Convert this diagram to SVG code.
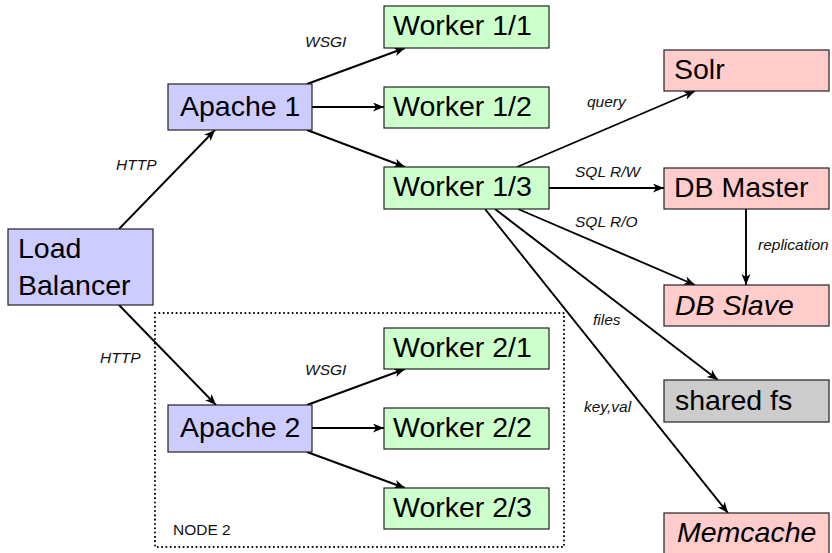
<svg xmlns="http://www.w3.org/2000/svg" width="832" height="553" viewBox="0 0 832 553">
<style>
.box{stroke:#222;stroke-width:1.2}
.blue{fill:#ccccff}.green{fill:#ccffcc}.red{fill:#ffcccc}.grey{fill:#cccccc}
.t{font-family:"Liberation Sans",Arial,sans-serif;font-size:28.5px;fill:#000}
.it{font-style:italic}
.lbl{font-family:"Liberation Sans",Arial,sans-serif;font-size:15.5px;font-style:italic;fill:#111}
.edge{stroke:#000;stroke-width:1.9;fill:none;marker-end:url(#arr)}
</style>
<defs>
<marker id="arr" markerUnits="userSpaceOnUse" markerWidth="13" markerHeight="10" refX="11" refY="4.5" orient="auto">
<path d="M0,0 L11,4.5 L0,9 L3,4.5 z" fill="#000"/>
</marker>
</defs>
<rect id="node2-frame" x="155" y="313" width="409" height="234" fill="none" stroke="#000" stroke-width="2" stroke-dasharray="0.1 4.2" stroke-linecap="round"/>
<text class="lbl" x="173" y="535" style="font-style:normal">NODE 2</text>
<g id="connectors">
<line class="edge" x1="119" y1="229" x2="215" y2="130"/>
<line class="edge" x1="119" y1="305" x2="216" y2="405"/>
<line class="edge" x1="307" y1="84" x2="405" y2="48"/>
<line class="edge" x1="312" y1="107" x2="384" y2="107"/>
<line class="edge" x1="307" y1="130" x2="405" y2="167"/>
<line class="edge" x1="307" y1="405" x2="405" y2="369"/>
<line class="edge" x1="312" y1="428" x2="384" y2="428"/>
<line class="edge" x1="307" y1="452" x2="405" y2="488"/>
<line class="edge" x1="517" y1="167" x2="695" y2="91"/>
<line class="edge" x1="549" y1="188" x2="664" y2="188"/>
<line class="edge" x1="518" y1="209" x2="695" y2="285"/>
<line class="edge" x1="746" y1="209" x2="746" y2="285"/>
<line class="edge" x1="495" y1="209" x2="718" y2="380"/>
<line class="edge" x1="485" y1="209" x2="728" y2="513"/>
<text class="lbl" x="116" y="170">HTTP</text>
<text class="lbl" x="100" y="363">HTTP</text>
<text class="lbl" x="305" y="47">WSGI</text>
<text class="lbl" x="305" y="375">WSGI</text>
<text class="lbl" x="587" y="107">query</text>
<text class="lbl" x="575" y="177">SQL R/W</text>
<text class="lbl" x="575" y="227">SQL R/O</text>
<text class="lbl" x="758" y="250">replication</text>
<text class="lbl" x="593" y="325">files</text>
<text class="lbl" x="584" y="412">key,val</text>
</g>
<g id="lb"><rect class="box blue" x="8" y="229" width="145" height="76"/><text class="t" x="18" y="258">Load</text><text class="t" x="18" y="295">Balancer</text></g>
<g id="apache1"><rect class="box blue" x="168" y="84" width="144" height="46"/><text class="t" x="180" y="116">Apache 1</text></g>
<g id="apache2"><rect class="box blue" x="168" y="405" width="144" height="47"/><text class="t" x="180" y="437">Apache 2</text></g>
<g id="w11"><rect class="box green" x="384" y="6" width="165" height="42"/><text class="t" x="393" y="35">Worker 1/1</text></g>
<g id="w12"><rect class="box green" x="384" y="87" width="165" height="41"/><text class="t" x="393" y="116">Worker 1/2</text></g>
<g id="w13"><rect class="box green" x="384" y="167" width="165" height="42"/><text class="t" x="393" y="196">Worker 1/3</text></g>
<g id="w21"><rect class="box green" x="384" y="328" width="165" height="41"/><text class="t" x="393" y="357">Worker 2/1</text></g>
<g id="w22"><rect class="box green" x="384" y="408" width="165" height="41"/><text class="t" x="393" y="437">Worker 2/2</text></g>
<g id="w23"><rect class="box green" x="384" y="488" width="165" height="41"/><text class="t" x="393" y="517">Worker 2/3</text></g>
<g id="solr"><rect class="box red" x="664" y="50" width="165" height="41"/><text class="t" x="674" y="79">Solr</text></g>
<g id="dbmaster"><rect class="box red" x="664" y="168" width="165" height="41"/><text class="t" x="674" y="197">DB Master</text></g>
<g id="dbslave"><rect class="box red" x="664" y="285" width="165" height="41"/><text class="t it" x="675" y="315">DB Slave</text></g>
<g id="sharedfs"><rect class="box grey" x="664" y="380" width="165" height="42"/><text class="t" x="675" y="410">shared fs</text></g>
<g id="memcache"><rect class="box red" x="664" y="513" width="165" height="42"/><text class="t it" x="677" y="542">Memcache</text></g>
</svg>
